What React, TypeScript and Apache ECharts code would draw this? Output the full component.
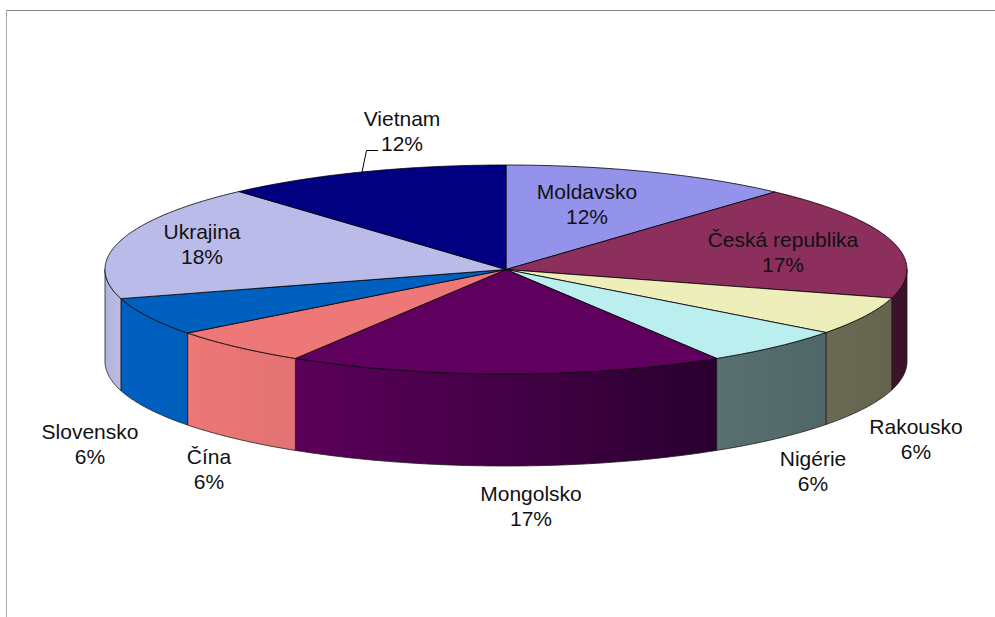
import React, { useEffect, useRef } from "react";
import * as echarts from "echarts";

const categories = ["Moldavsko", "Česká republika", "Rakousko", "Nigérie", "Mongolsko", "Čína", "Slovensko", "Ukrajina", "Vietnam"];
const shares = [11.7, 17.7, 5.9, 5.9, 17.6, 5.8, 5.9, 17.9, 11.6];
const percentLabels = ["12%", "17%", "6%", "6%", "17%", "6%", "6%", "18%", "12%"];
const topColors = ["#9393EB", "#8C2F5D", "#EEEEBB", "#BBEEEE", "#5F005F", "#EE7777", "#0060C0", "#BBBBE9", "#000080"];
const sideFrom = ["#7878C0", "#42112D", "#6A6A54", "#587070", "#5C005A", "#EE7777", "#0060C0", "#B3B3DC", "#000060"];
const sideTo = ["#7878C0", "#38102A", "#65654F", "#506767", "#2A0030", "#E27272", "#005EBD", "#BBBBE4", "#000060"];
const labelCenters = [[587, 204], [783, 252], [916, 439], [813, 471], [531, 506], [209, 469], [90, 444], [202, 244], [402, 131]];

const CX = 506, CY = 269.5, RX = 401, RY = 104.5, DEPTH = 92;

const total = shares.reduce((a, b) => a + b, 0);
let acc = 0;
const spans = shares.map((s) => {
  const start = (acc / total) * 360;
  acc += s;
  return [start, (acc / total) * 360];
});

const rim = (deg: number, dy = 0) => {
  const r = (deg * Math.PI) / 180;
  return [CX + RX * Math.sin(r), CY - RY * Math.cos(r) + dy];
};
const arc = (a: number, b: number, dy = 0) => {
  const pts: number[][] = [];
  const n = Math.max(2, Math.ceil((b - a) * 2));
  for (let i = 0; i <= n; i++) pts.push(rim(a + ((b - a) * i) / n, dy));
  return pts;
};

const sliceData = categories.map((name, i) => ({ name, value: [spans[i][0], spans[i][1], shares[i]] }));

export default function App() {
  const ref = useRef<HTMLDivElement>(null);
  useEffect(() => {
    document.body.style.margin = "0";
    const chart = echarts.init(ref.current!, undefined, { renderer: "svg" });
    chart.setOption({
      animation: false,
      backgroundColor: "#ffffff",
      series: [
        {
          type: "custom",
          name: "sides",
          coordinateSystem: "none",
          silent: true,
          z: 1,
          data: sliceData,
          renderItem: (params: any, api: any) => {
            const i = params.dataIndex;
            const a = Math.max(api.value(0), 90);
            const b = Math.min(api.value(1), 270);
            if (b <= a) return { type: "group", children: [] };
            const points = [...arc(a, b), ...arc(a, b, DEPTH).reverse()];
            return {
              type: "polygon",
              shape: { points },
              style: {
                fill: new echarts.graphic.LinearGradient(0, 0, 1, 0, [
                  { offset: 0, color: sideFrom[i] },
                  { offset: 1, color: sideTo[i] },
                ]),
                stroke: "#1c1c1c",
                lineWidth: 0.8,
              },
            };
          },
        },
        {
          type: "custom",
          name: "tops",
          coordinateSystem: "none",
          silent: true,
          z: 2,
          data: sliceData,
          renderItem: (params: any, api: any) => {
            const i = params.dataIndex;
            const points = [[CX, CY], ...arc(api.value(0), api.value(1))];
            return {
              type: "polygon",
              shape: { points },
              style: { fill: topColors[i], stroke: "#000000", lineWidth: 0.8, lineJoin: "round" },
            };
          },
        },
      ],
      graphic: [
        { type: "line", silent: true, shape: { x1: 6, y1: 10.5, x2: 995, y2: 10.5 }, style: { stroke: "#858585", lineWidth: 1 } },
        { type: "line", silent: true, shape: { x1: 6.5, y1: 10, x2: 6.5, y2: 617 }, style: { stroke: "#a6a6a6", lineWidth: 1 } },
        { type: "polyline", silent: true, z: 5, shape: { points: [[362, 172], [366.5, 150.5], [378, 150.5]] }, style: { stroke: "#000000", lineWidth: 1, fill: "none" } },
        ...categories.map((name, i) => ({
          type: "text",
          silent: true,
          z: 6,
          x: labelCenters[i][0],
          y: labelCenters[i][1],
          style: {
            text: `${name}\n${percentLabels[i]}`,
            fill: "#111111",
            font: '21px "Liberation Sans", Arial, sans-serif',
            lineHeight: 25,
            align: "center",
            verticalAlign: "middle",
          },
        })),
      ],
    });
    return () => chart.dispose();
  }, []);
  return <div ref={ref} style={{ width: 995, height: 617 }} />;
}
